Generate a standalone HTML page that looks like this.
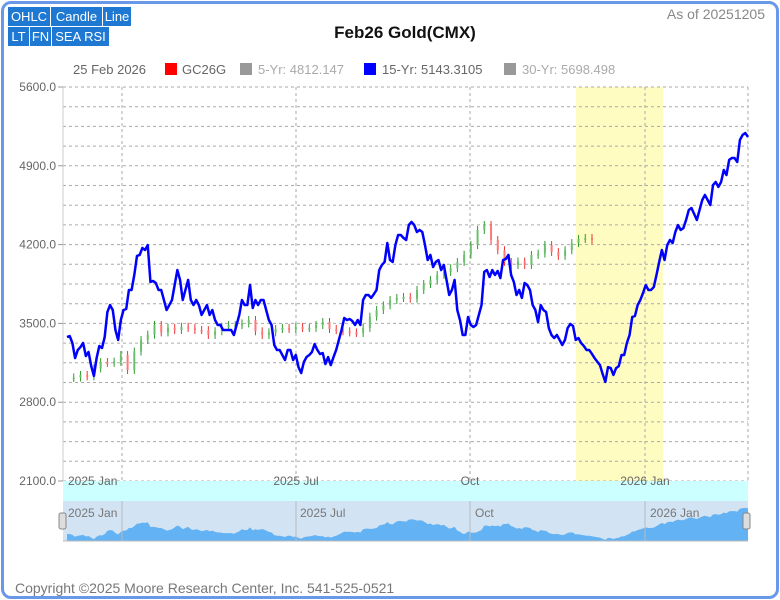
<!DOCTYPE html>
<html><head><meta charset="utf-8"><style>
body{margin:0;width:780px;height:600px;background:#fff;font-family:"Liberation Sans",sans-serif;overflow:hidden;position:relative}
.frame{position:absolute;left:1px;top:1px;width:772px;height:592px;border:3px solid #6a98e8;border-radius:10px}
.btn{position:absolute;background:#1f78d1;color:#fff;font-size:13px;height:19px;line-height:19px;text-align:center}
.t{position:absolute;white-space:nowrap}
</style></head><body>
<div class="frame"></div>
<div class="btn" style="left:8px;top:7px;width:42px">OHLC</div>
<div class="btn" style="left:51px;top:7px;width:51px">Candle</div>
<div class="btn" style="left:103px;top:7px;width:28px">Line</div>
<div class="btn" style="left:8px;top:27px;width:21px">LT</div>
<div class="btn" style="left:30px;top:27px;width:21px">FN</div>
<div class="btn" style="left:52px;top:27px;width:57px">SEA RSI</div>
<div class="t" style="right:15px;top:6px;font-size:14px;color:#888">As of 20251205</div>
<div class="t" style="left:0;width:810px;text-align:center;top:23px;font-size:17px;font-weight:bold;color:#111">Feb26 Gold(CMX)</div>
<div class="t" style="left:15px;top:580px;font-size:14px;color:#777">Copyright ©2025 Moore Research Center, Inc. 541-525-0521</div>
<svg id="c" width="780" height="600" style="position:absolute;left:0;top:0" font-family="Liberation Sans, sans-serif"></svg>
<script>
const blue=[3379,3388,3326,3192,3264,3290,3326,3210,3246,3121,3033,3192,3299,3281,3379,3601,3663,3619,3441,3353,3530,3619,3628,3797,3797,3930,4099,4108,4170,4152,4196,3868,3877,3859,3797,3797,3708,3619,3663,3708,3841,3974,3886,3708,3797,3886,3708,3663,3708,3663,3575,3619,3663,3575,3619,3530,3486,3486,3441,3441,3441,3441,3397,3486,3575,3708,3663,3663,3841,3637,3708,3663,3708,3708,3619,3530,3486,3308,3264,3264,3219,3175,3264,3264,3175,3219,3112,3059,3157,3201,3219,3246,3317,3264,3228,3237,3139,3201,3130,3200,3264,3353,3441,3548,3530,3539,3521,3486,3530,3486,3708,3752,3752,3726,3760,3797,3974,4019,4046,4214,4063,4046,4196,4285,4285,4260,4241,4374,4401,4374,4312,4330,4312,4196,4063,4108,4001,4046,4063,3974,4019,3886,3752,3797,3886,3619,3530,3397,3397,3557,3486,3468,3486,3575,3663,3957,3974,3912,3974,3930,3966,3903,4063,4072,4108,3930,3868,3752,3797,3726,3859,3841,3797,3663,3619,3512,3663,3619,3601,3459,3397,3370,3397,3353,3308,3353,3459,3495,3477,3353,3370,3326,3300,3264,3264,3230,3192,3160,3130,3050,2980,3112,3103,3042,3103,3121,3219,3219,3326,3397,3557,3566,3663,3708,3770,3841,3797,3797,3823,3930,4046,4152,4063,4196,4241,4214,4312,4374,4330,4347,4419,4507,4525,4472,4419,4507,4596,4641,4596,4552,4729,4756,4712,4756,4863,4818,4952,4969,4969,4934,5129,5174,5191,5156];
const closes=[3015,3020,3042,3030,3100,3157,3150,3160,3219,3086,3250,3353,3400,3486,3420,3460,3441,3470,3460,3441,3440,3397,3430,3470,3486,3486,3500,3530,3430,3397,3420,3450,3460,3450,3468,3459,3460,3486,3512,3450,3440,3430,3420,3415,3460,3560,3619,3660,3708,3726,3735,3720,3797,3850,3886,3930,3957,3990,4046,4110,4196,4330,4374,4241,4150,4046,4019,4050,4019,4108,4120,4196,4134,4100,4150,4214,4250,4259,4240];
const yTicks=[5600,4900,4200,3500,2800,2100];
const xLabels=["2025 Jan","2025 Jul","Oct","2026 Jan"];
const L=63,R=748,T=87,B=481;
const yS=v=>T+(5600-v)*(B-T)/3500;
const xB=i=>67+i*(R-67)/(blue.length-1);
const xC=i=>67+i*(592-67)/(closes.length-1);
const svg=document.getElementById('c');
const NS='http://www.w3.org/2000/svg';
function mk(t,a){const e=document.createElementNS(NS,t);for(const k in a)e.setAttribute(k,a[k]);svg.appendChild(e);return e;}
function txt(s,a){const e=mk('text',a);e.textContent=s;return e;}
txt('25 Feb 2026',{x:73,y:74,'font-size':13,fill:'#666'});
let r=mk('rect',{x:165,y:63,width:12,height:12,fill:'#f00'});


txt('GC26G',{x:182,y:74,'font-size':13,fill:'#666'});
mk('rect',{x:240,y:63,width:12,height:12,fill:'#999'});
txt('5-Yr: 4812.147',{x:258,y:74,'font-size':13,fill:'#aaa'});
mk('rect',{x:364,y:63,width:12,height:12,fill:'#00f'});
txt('15-Yr: 5143.3105',{x:382,y:74,'font-size':13,fill:'#666'});
mk('rect',{x:504,y:63,width:12,height:12,fill:'#999'});
txt('30-Yr: 5698.498',{x:522,y:74,'font-size':13,fill:'#aaa'});
r=mk('rect',{x:576,y:T,width:87,height:B-T,fill:'#fffcc2'});


for(let v=5600;v>=2100;v-=175){const y=yS(v);mk('line',{x1:L,x2:R,y1:y,y2:y,stroke:'#aaa','stroke-dasharray':'3,3'});}
[122,296,470,645,748].forEach(x=>mk('line',{x1:x,x2:x,y1:T,y2:B,stroke:'#aaa','stroke-dasharray':'3,3'}));
mk('line',{x1:L,x2:L,y1:T,y2:B,stroke:'#ccc'});
yTicks.forEach(v=>{const y=yS(v);mk('line',{x1:L-5,x2:L,y1:y,y2:y,stroke:'#999'});
const e=txt(v.toFixed(1),{x:L-7,y:y+4,'font-size':12,fill:'#666','text-anchor':'end'});
});
mk('rect',{x:L,y:481,width:R-L,height:20,fill:'#ccffff'});
const xl=[[68,'start'],[296,'middle'],[470,'middle'],[645,'middle']];
xLabels.forEach((s,i)=>{const e=txt(s,{x:xl[i][0],y:485,'font-size':12,fill:'#666','text-anchor':xl[i][1]});
});
closes.forEach((c,i)=>{if(i===0)return;const o=closes[i-1];const x=xC(i);const up=c>=o;
const y1=yS(Math.max(o,c)),y2=yS(Math.min(o,c));
const e=mk('line',{x1:x,x2:x,y1:y1-4,y2:y2+4,stroke:up?'#2e9a2e':'#e33','stroke-width':1});

const b=mk('rect',{x:x-1,y:y1,width:2,height:Math.max(2,y2-y1),fill:up?'#6cbf6c':'#f77'});
});
const pl=mk('polyline',{points:blue.map((v,i)=>xB(i)+','+yS(v)).join(' '),fill:'none',stroke:'#00f','stroke-width':2.5,'stroke-linejoin':'round'});


const nb=mk('rect',{x:L,y:501,width:R-L,height:40,fill:'#d2e3f3'});


const nY=v=>541-(v-2900)*34/2350;
const area=mk('path',{d:'M'+xB(0)+',541 '+blue.map((v,i)=>'L'+xB(i)+','+nY(v)).join(' ')+' L'+R+',541 Z',fill:'#63b2f3'});

[122,296,470,645].forEach(x=>mk('line',{x1:x,x2:x,y1:501,y2:541,stroke:'#bbb'}));
mk('line',{x1:L,x2:R,y1:541,y2:541,stroke:'#bbb'});
const nl=[68,300,475,650];
xLabels.forEach((s,i)=>txt(s,{x:nl[i],y:517,'font-size':12,fill:'#777'}));
[[59,'navigator-left-handle'],[743,'navigator-right-handle']].forEach(h=>{const e=mk('rect',{x:h[0],y:513,width:7,height:16,rx:2,fill:'#ddd',stroke:'#888'});

});
</script>
</body></html>
